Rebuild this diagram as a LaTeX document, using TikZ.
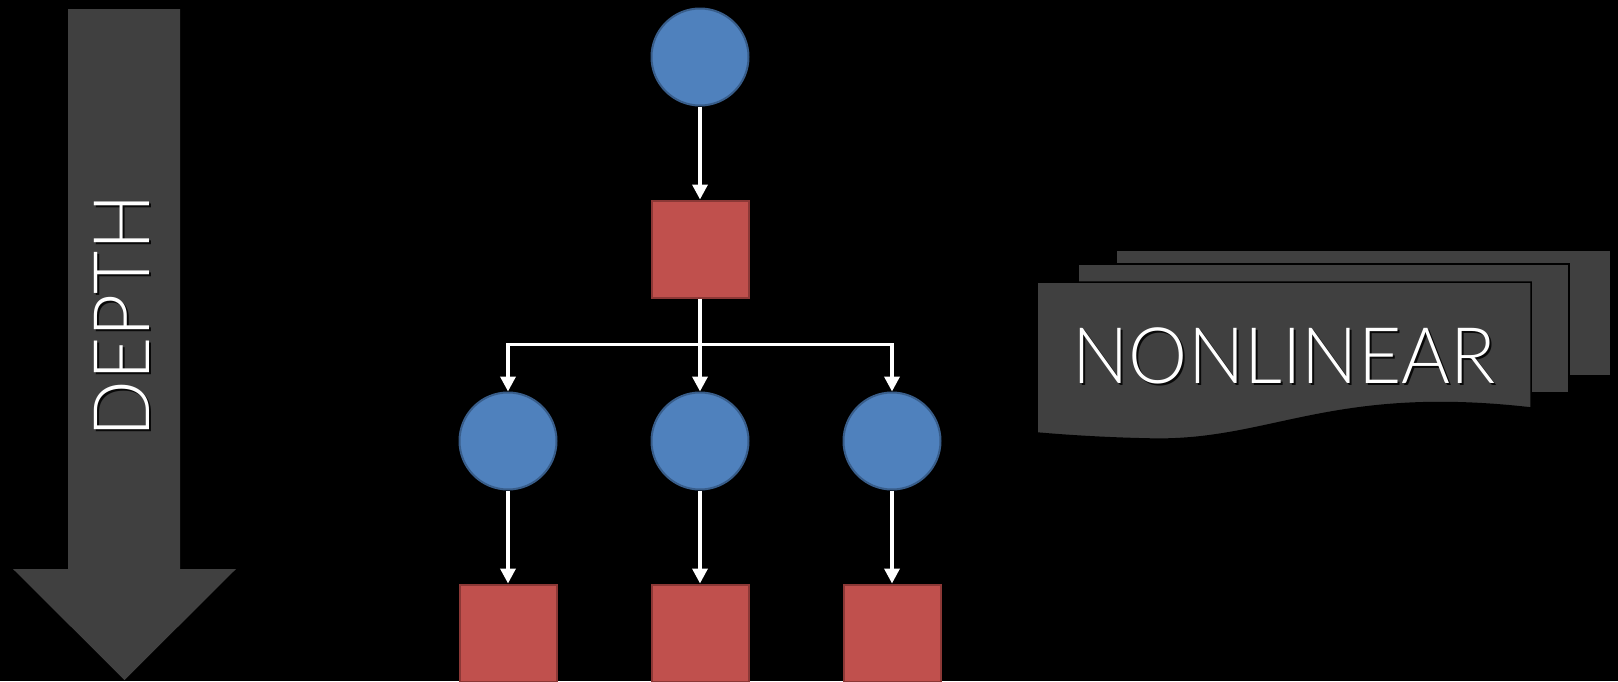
\documentclass[tikz,border=0pt]{standalone}
\usepackage{fontspec}
\setmainfont{Lato Light}
\usetikzlibrary{arrows.meta,positioning}
\definecolor{slate}{HTML}{404040}
\definecolor{unitblue}{HTML}{4F81BD}
\definecolor{unitedge}{HTML}{385D8A}
\definecolor{layerred}{HTML}{C0504D}
\definecolor{layeredge}{HTML}{8C3836}

\begin{document}
\begin{tikzpicture}[
    x=1pt, y=-1pt,
    node distance=93pt,
    unit/.style={circle, draw=unitedge, fill=unitblue, line width=2pt, minimum size=97pt, inner sep=0pt},
    layer/.style={rectangle, draw=layeredge, fill=layerred, line width=2pt, minimum size=97pt, inner sep=0pt},
    link/.style={draw=white, line width=3.5pt, -{Triangle[width=15pt,length=15pt]}},
    sheet/.style={fill=slate, draw=black, line width=1.5pt},
    bigword/.style={text=white, xscale=0.957, font=\fontsize{78}{78}\selectfont, inner sep=0pt},
    wordshade/.style={text=black, opacity=0.85, xscale=0.957, font=\fontsize{78}{78}\selectfont, inner sep=0pt}
  ]
    \fill[black] (0,0) rectangle (1618,681);
    \useasboundingbox (0,0) rectangle (1618,681);

    % depth arrow
    \fill[slate] (68,9) -- (180,9) -- (180,569) -- (236,569) -- (124.5,680)
      -- (13,569) -- (68,569) -- cycle;
    \node[rotate=90, wordshade] (depthshade) at (124,318) {DEPTH};
    \node[rotate=90, bigword] (depth) at (122,316) {DEPTH};

    % network
    \node[unit] (root) at (700,57) {};
    \node[layer, below=of root] (sq) {};
    \node[unit, below=of sq] (c2) {};
    \node[unit, left=of c2] (c1) {};
    \node[unit, right=of c2] (c3) {};
    \node[layer, below=of c1] (s1) {};
    \node[layer, below=of c2] (s2) {};
    \node[layer, below=of c3] (s3) {};
    \coordinate[below=46pt of sq] (split);

    \draw[link] (root) -- (sq);
    \draw[link] (sq) -- (c2);
    \draw[link] (split) -| (c1);
    \draw[link] (split) -| (c3);
    \draw[link] (c1) -- (s1);
    \draw[link] (c2) -- (s2);
    \draw[link] (c3) -- (s3);

    % stacked sheets
    \draw[sheet] (1116,250) rectangle (1611,376);
    \draw[sheet] (1078,264) rectangle (1569,393);
    \draw[sheet] (1037,282) -- (1531,282) -- (1531,408)
      .. controls (1330,385) and (1270,442) .. (1150,439)
      .. controls (1100,438) and (1060,435) .. (1037,433) -- cycle;
    \node[wordshade] (nonlinearshade) at (1286,358) {NONLINEAR};
    \node[bigword] (nonlinear) at (1284,356) {NONLINEAR};
\end{tikzpicture}
\end{document}
